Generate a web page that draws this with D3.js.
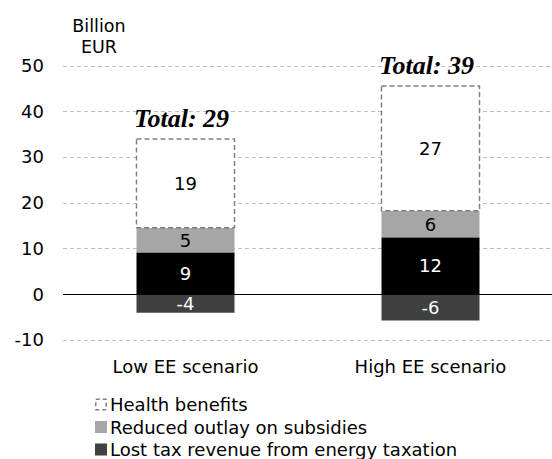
<!DOCTYPE html>
<html>
<head>
<meta charset="utf-8">
<script src="https://cdn.jsdelivr.net/npm/d3@7"></script>
<style>
  body { margin: 0; background: #fff; }
  svg { font-family: "DejaVu Sans", Verdana, sans-serif; }
  .total { font-family: "Liberation Serif", "Times New Roman", serif; font-weight: bold; font-style: italic; }
</style>
</head>
<body>
<svg width="552" height="459"></svg>
<script>
// Data
const categories = ["Low EE scenario", "High EE scenario"];
const lostTax = [-4.1, -5.8];
const taxLabels = ["-4", "-6"];
const blackPart = [9.1, 12.4];
const blackLabels = ["9", "12"];
const subsidies = [5.4, 5.8];
const subsidyLabels = ["5", "6"];
const health = [19.4, 27.3];
const healthLabels = ["19", "27"];
const totals = ["Total: 29", "Total: 39"];
const yTicks = [-10, 0, 10, 20, 30, 40, 50];
const legendItems = ["Health benefits", "Reduced outlay on subsidies", "Lost tax revenue from energy taxation"];

const svg = d3.select("svg");
const fs = 18;

// Scales
const x = d3.scaleBand()
    .domain(categories)
    .range([63, 553])
    .paddingInner(0.6)
    .paddingOuter(0.3);

const y = d3.scaleLinear()
    .domain([-10, 50])
    .range([339.7, 65.5]);

// Gridlines
svg.append("g")
    .selectAll("line")
    .data(yTicks.filter(d => d !== 0))
    .enter().append("line")
    .attr("x1", 63)
    .attr("x2", 552)
    .attr("y1", d => Math.round(y(d)) + 0.5)
    .attr("y2", d => Math.round(y(d)) + 0.5)
    .attr("stroke", "#bfbfbf")
    .attr("stroke-dasharray", "4,3");

// Y tick labels
svg.append("g")
    .selectAll("text")
    .data(yTicks)
    .enter().append("text")
    .attr("x", 44)
    .attr("y", d => y(d) + 6.5)
    .attr("text-anchor", "end")
    .attr("font-size", fs)
    .attr("fill", "#000")
    .text(d => d);

// unit label
svg.append("text")
    .attr("x", 99).attr("y", 32)
    .attr("text-anchor", "middle")
    .attr("font-size", 17.5)
    .text("Billion");
svg.append("text")
    .attr("x", 99).attr("y", 53)
    .attr("text-anchor", "middle")
    .attr("font-size", 17.5)
    .text("EUR");

// Build segments
const segs = [];
categories.forEach((c, i) => {
    segs.push({ c, y0: lostTax[i], y1: 0, fill: "#404040", txt: taxLabels[i], tc: "#fff" });
    segs.push({ c, y0: 0, y1: blackPart[i], fill: "#000", txt: blackLabels[i], tc: "#fff" });
    const s1 = blackPart[i] + subsidies[i];
    segs.push({ c, y0: blackPart[i], y1: s1, fill: "#a6a6a6", txt: subsidyLabels[i], tc: "#000" });
    segs.push({ c, y0: s1, y1: s1 + health[i], fill: "#fff", txt: healthLabels[i], tc: "#000", dashed: true });
});

const bars = svg.append("g");
bars.selectAll("rect")
    .data(segs)
    .enter().append("rect")
    .attr("x", d => x(d.c))
    .attr("width", x.bandwidth())
    .attr("y", d => y(d.y1))
    .attr("height", d => y(d.y0) - y(d.y1))
    .attr("fill", d => d.fill)
    .attr("stroke", d => d.dashed ? "#808080" : "none")
    .attr("stroke-width", d => d.dashed ? 1.5 : 0)
    .attr("stroke-dasharray", d => d.dashed ? "5,3" : null);

bars.selectAll("text")
    .data(segs)
    .enter().append("text")
    .attr("x", d => x(d.c) + x.bandwidth() / 2)
    .attr("y", d => (y(d.y0) + y(d.y1)) / 2 + 6.5)
    .attr("text-anchor", "middle")
    .attr("font-size", fs)
    .attr("fill", d => d.tc)
    .text(d => d.txt);

// Zero line
svg.append("line")
    .attr("x1", 63).attr("x2", 552)
    .attr("y1", Math.round(y(0)) + 0.5).attr("y2", Math.round(y(0)) + 0.5)
    .attr("stroke", "#000")
    .attr("stroke-width", 1);

// Totals
svg.append("g")
    .selectAll("text")
    .data(categories)
    .enter().append("text")
    .attr("class", "total")
    .attr("x", d => x(d) + x.bandwidth() / 2 - 4)
    .attr("y", (d, i) => y(blackPart[i] + subsidies[i] + health[i]) - 12)
    .attr("text-anchor", "middle")
    .attr("font-size", 26)
    .text((d, i) => totals[i]);

// Category labels
svg.append("g")
    .selectAll("text")
    .data(categories)
    .enter().append("text")
    .attr("x", d => x(d) + x.bandwidth() / 2)
    .attr("y", 373)
    .attr("text-anchor", "middle")
    .attr("font-size", fs)
    .text(d => d);

// Legend
const legend = svg.append("g").attr("transform", "translate(95,0)");
const legFill = ["#fff", "#a6a6a6", "#404040"];
legend.selectAll("rect")
    .data(legendItems)
    .enter().append("rect")
    .attr("x", (d, i) => i === 0 ? 0.75 : 0)
    .attr("y", (d, i) => 398.5 + i * 22.5 + (i === 0 ? 0.75 : 0))
    .attr("width", (d, i) => i === 0 ? 10.5 : 12)
    .attr("height", (d, i) => i === 0 ? 10.5 : 12)
    .attr("fill", (d, i) => legFill[i])
    .attr("stroke", (d, i) => i === 0 ? "#808080" : "none")
    .attr("stroke-width", 1.5)
    .attr("stroke-dasharray", (d, i) => i === 0 ? "4,3" : null);

legend.selectAll("text")
    .data(legendItems)
    .enter().append("text")
    .attr("x", 15)
    .attr("y", (d, i) => 411 + i * 22.5)
    .attr("font-size", fs)
    .attr("fill", "#000")
    .text(d => d);
</script>
</body>
</html>
